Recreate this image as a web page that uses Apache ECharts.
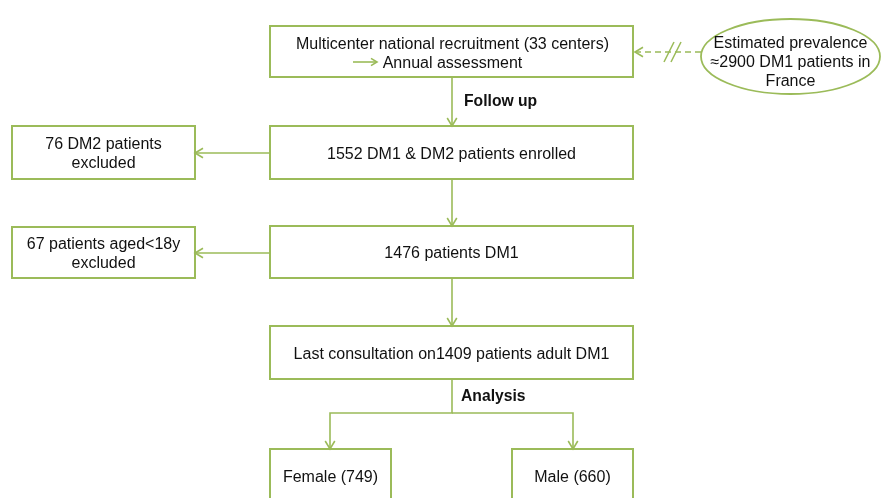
<!DOCTYPE html>
<html>
<head>
<meta charset="utf-8">
<script src="https://cdn.jsdelivr.net/npm/echarts@6/dist/echarts.min.js"></script>
<style>
  html, body { margin: 0; background: #fff; }
  #chart { width: 881px; height: 498px; }
</style>
</head>
<body>
<div id="chart"></div>
<script>
const centers = 33;
const prevalence = 2900;
const stepCounts = [1552, 1476, 1409];
const excludedCounts = [76, 67];
const sexLabels = ['Female', 'Male'];
const sexCounts = [749, 660];
const edgeLabels = ['Follow up', 'Analysis'];

const boxTexts = [
  'Multicenter national recruitment (' + centers + ' centers)\nAnnual assessment',
  stepCounts[0] + ' DM1 & DM2 patients enrolled',
  stepCounts[1] + ' patients DM1',
  'Last consultation on' + stepCounts[2] + ' patients adult DM1',
  excludedCounts[0] + ' DM2 patients\nexcluded',
  excludedCounts[1] + ' patients aged<18y\nexcluded',
  sexLabels[0] + ' (' + sexCounts[0] + ')',
  sexLabels[1] + ' (' + sexCounts[1] + ')'
];
const ellipseText = 'Estimated prevalence\n\u2248' + prevalence + ' DM1 patients in\nFrance';

// layout, in axis units (x0, y0, x1, y1)
const boxLayout = [
  [270, 26, 633, 77],
  [270, 126, 633, 179],
  [270, 226, 633, 278],
  [270, 326, 633, 379],
  [12, 126, 195, 179],
  [12, 227, 195, 278],
  [270, 449, 391, 503],
  [512, 449, 633, 503]
];
const connectors = [
  { pts: [[452, 77], [452, 126]] },
  { pts: [[452, 179], [452, 226]] },
  { pts: [[452, 278], [452, 326]] },
  { pts: [[270, 153], [195, 153]] },
  { pts: [[270, 253], [195, 253]] },
  { pts: [[452, 379], [452, 413], [330, 413], [330, 449]] },
  { pts: [[452, 413], [573, 413], [573, 449]] },
  { pts: [[353, 62], [377, 62]], head: 6 },
  { pts: [[701, 52], [635, 52]], dashed: true }
];
const labelLayout = [[464, 102], [461, 397]];
const textShift = 2;

const green = '#9bbb59';
const ink = '#111';
const family = 'Liberation Sans';

function arrowHead(p, q, len, half) {
  const dx = q[0] - p[0], dy = q[1] - p[1];
  const d = Math.sqrt(dx * dx + dy * dy);
  const ux = dx / d, uy = dy / d;
  const bx = q[0] - ux * len, by = q[1] - uy * len;
  return [[bx - uy * half, by + ux * half], q, [bx + uy * half, by - ux * half]];
}

const chart = echarts.init(document.getElementById('chart'));
chart.setOption({
  animation: false,
  grid: { left: 0, top: 0, width: 881, height: 498 },
  xAxis: { type: 'value', min: 0, max: 881, show: false },
  yAxis: { type: 'value', min: 0, max: 498, inverse: true, show: false },
  series: [
    {
      type: 'custom',
      name: 'boxes',
      data: boxLayout.map((b, i) => [i, 0]),
      renderItem(params, api) {
        const i = api.value(0);
        const b = boxLayout[i];
        const p0 = api.coord([b[0], b[1]]);
        const p1 = api.coord([b[2], b[3]]);
        return {
          type: 'group',
          children: [
            { type: 'rect', shape: { x: p0[0], y: p0[1], width: p1[0] - p0[0], height: p1[1] - p0[1] },
              style: { fill: '#fff', stroke: green, lineWidth: 2 } },
            { type: 'text', x: (p0[0] + p1[0]) / 2 + (i === 0 ? 1 : 0),
              y: (p0[1] + p1[1]) / 2 + textShift + (i === 0 ? 1 : 0),
              style: { text: boxTexts[i], align: 'center', verticalAlign: 'middle', fill: ink,
                       fontFamily: family, fontSize: 16, lineHeight: 19 } }
          ]
        };
      }
    },
    {
      type: 'custom',
      name: 'prevalence',
      data: [[0, 0]],
      renderItem(params, api) {
        const c = api.coord([790.5, 56.5]);
        const e = api.coord([880, 94]);
        return {
          type: 'group',
          children: [
            { type: 'ellipse', shape: { cx: c[0], cy: c[1], rx: e[0] - c[0], ry: e[1] - c[1] },
              style: { fill: '#fff', stroke: green, lineWidth: 1.8 } },
            { type: 'text', x: c[0], y: api.coord([0, 61])[1] + textShift,
              style: { text: ellipseText, align: 'center', verticalAlign: 'middle', fill: ink,
                       fontFamily: family, fontSize: 16, lineHeight: 19 } }
          ]
        };
      }
    },
    {
      type: 'custom',
      name: 'connectors',
      data: connectors.map((c, i) => [i, 0]),
      renderItem(params, api) {
        const c = connectors[api.value(0)];
        const pts = c.pts.map(p => api.coord(p));
        const n = pts.length;
        const h = c.head || 8;
        const style = { stroke: green, lineWidth: 1.6, fill: null, lineDash: c.dashed ? [6, 4] : null };
        const children = [
          { type: 'polyline', shape: { points: pts }, style },
          { type: 'polyline', shape: { points: arrowHead(pts[n - 2], pts[n - 1], h, h * 0.6) },
            style: { stroke: green, lineWidth: 1.6, fill: null } }
        ];
        if (c.dashed) {
          [0, 7].forEach(off => {
            children.push({ type: 'line',
              shape: { x1: api.coord([664 + off, 0])[0], y1: api.coord([0, 62])[1],
                       x2: api.coord([674 + off, 0])[0], y2: api.coord([0, 42])[1] },
              style: { stroke: green, lineWidth: 1.6 } });
          });
        }
        return { type: 'group', children };
      }
    },
    {
      type: 'custom',
      name: 'edge labels',
      data: edgeLabels.map((t, i) => [i, 0]),
      renderItem(params, api) {
        const i = api.value(0);
        const p = api.coord(labelLayout[i]);
        return { type: 'text', x: p[0], y: p[1],
          style: { text: edgeLabels[i], align: 'left', verticalAlign: 'middle', fill: ink,
                   fontFamily: family, fontSize: 15.7, fontWeight: 'bold' } };
      }
    }
  ]
});
</script>
</body>
</html>
